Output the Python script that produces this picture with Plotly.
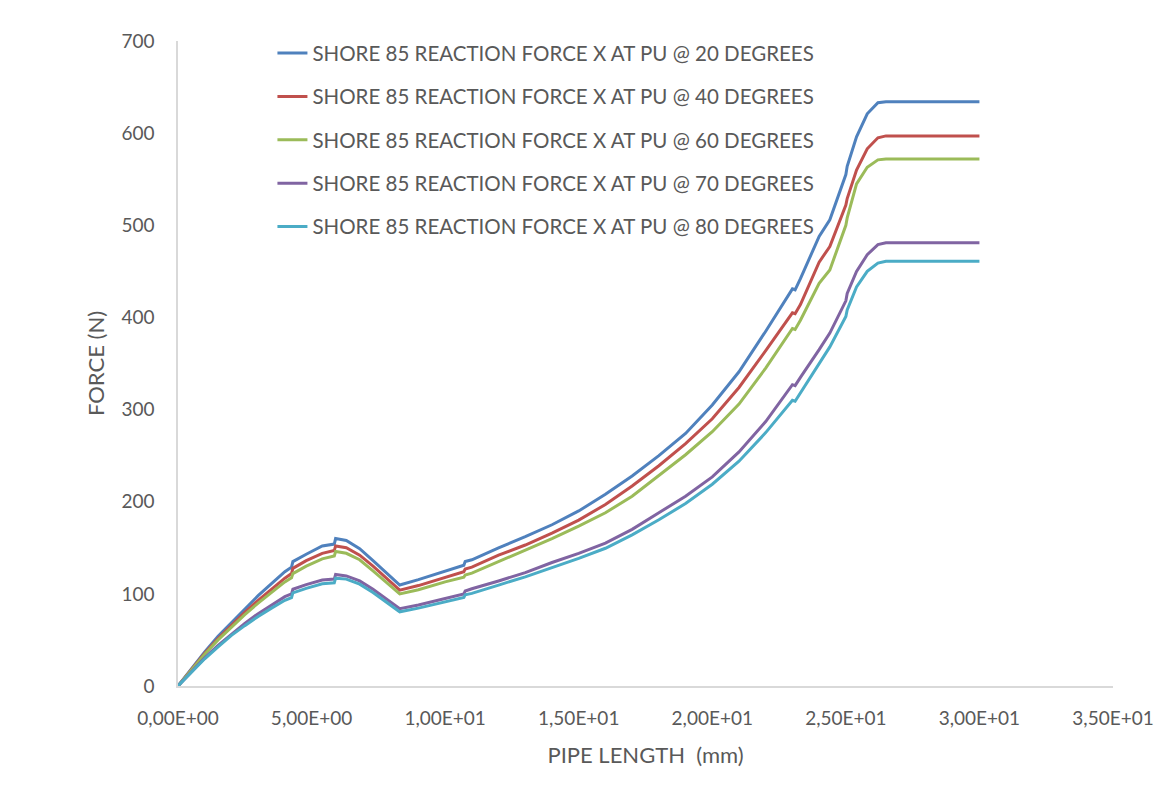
import plotly.graph_objects as go

# Pipe length (mm), shared by every series
pipe_length = [0, 0.5, 1, 1.5, 2, 2.5, 3, 3.5, 4, 4.25, 4.3, 4.8, 5.4, 5.85, 5.9,
               6.3, 6.8, 7.3, 7.8, 8.3, 9, 10, 10.7, 10.75, 11, 12, 13, 14, 15,
               16, 17, 18, 19, 20, 21, 22, 22.9, 23.0, 23.1, 23.3, 24, 24.4,
               25.0, 25.05, 25.4, 25.8, 26.2, 26.5, 30]

# Reaction force X (N) for each pipe angle
force_20 = [0, 19, 37, 54, 69, 84, 98, 111, 124, 129, 135, 143, 152, 154, 160,
            158, 149, 136, 123, 109.6, 115.5, 124.5, 131, 135, 137, 150, 162, 175, 190,
            208, 228, 250, 274, 305, 341, 385, 426, 431, 430, 442, 488, 506,
            555, 564, 596, 621, 633, 634, 634]
force_40 = [0, 18, 35.5, 51.5, 66, 80, 93, 105.5, 117, 122, 127.7, 136, 144, 147, 152,
            150, 142, 130, 117, 104, 109, 118, 124, 127, 129, 142, 153, 166, 180,
            197, 217, 239, 263, 290, 324, 364, 400, 405, 404, 414, 460, 477,
            522, 529, 560, 583, 595, 597, 597]
force_60 = [0, 17.5, 34.5, 50, 64, 77.5, 90, 102, 113, 117.5, 122, 130, 138, 141, 146,
            144, 137, 125, 112.5, 100, 104.5, 113, 118, 120.5, 122.5, 135, 147, 160, 173.5,
            188, 206, 228, 251, 276, 306, 345, 383, 388, 387, 397, 437, 451.5,
            500, 508, 545, 563, 571, 572, 572]
force_70 = [0, 15.5, 30.5, 44, 56.5, 68, 78.5, 88, 97, 100, 105, 110, 115, 116, 121,
            119.5, 114, 105, 94.5, 84, 88, 95, 100, 103, 105.5, 114, 123, 134, 144,
            155, 170, 188, 206, 227, 254, 287, 322, 327, 326, 335, 365, 383,
            418, 426, 450, 468, 479, 481, 481]
force_80 = [0, 15, 29.5, 42.5, 55, 65.5, 75.5, 84.5, 93, 96, 101, 106, 111, 112, 117,
            116, 110.5, 101.5, 91, 80.5, 84.5, 91, 96, 99, 100.5, 109.5, 118.5, 128.5, 138.5,
            149.5, 164, 180.5, 198, 219, 244, 275, 306, 310, 309, 318, 350, 368,
            401, 408, 433, 450, 459, 461, 461]

series_names = [
    "SHORE 85 REACTION FORCE X AT PU @ 20 DEGREES",
    "SHORE 85 REACTION FORCE X AT PU @ 40 DEGREES",
    "SHORE 85 REACTION FORCE X AT PU @ 60 DEGREES",
    "SHORE 85 REACTION FORCE X AT PU @ 70 DEGREES",
    "SHORE 85 REACTION FORCE X AT PU @ 80 DEGREES",
]
series_values = [force_20, force_40, force_60, force_70, force_80]
series_colors = ["#4F81BD", "#C0504D", "#9BBB59", "#8064A2", "#4BACC6"]

x_tick_values = [0, 5, 10, 15, 20, 25, 30, 35]
x_tick_labels = ["0,00E+00", "5,00E+00", "1,00E+01", "1,50E+01",
                 "2,00E+01", "2,50E+01", "3,00E+01", "3,50E+01"]

FONT = "Lato, 'Open Sans', sans-serif"
TEXT_GREY = "#595959"
AXIS_GREY = "#D9D9D9"

fig = go.Figure()
for i, (name, ys, col) in enumerate(zip(series_names, series_values, series_colors)):
    fig.add_trace(go.Scatter(
        x=pipe_length, y=ys, mode="lines", name=name,
        legendgroup=f"g{i}",
        line=dict(color=col, width=3),
    ))

fig.update_layout(
    width=1159, height=787,
    margin=dict(l=178, r=46, t=41, b=101, autoexpand=False),
    paper_bgcolor="white", plot_bgcolor="white",
    font=dict(family=FONT, color=TEXT_GREY, size=19),
    showlegend=True,
    legend=dict(
        x=0.101, y=1.012, xanchor="left", yanchor="top",
        bgcolor="rgba(0,0,0,0)",
        traceorder="grouped", tracegroupgap=13.7,
        font=dict(family=FONT, size=20.5, color=TEXT_GREY),
    ),
)

fig.update_xaxes(
    range=[0, 35], tickmode="array", tickvals=x_tick_values, ticktext=x_tick_labels,
    showgrid=False, zeroline=False, automargin=False,
    showline=True, linecolor=AXIS_GREY, linewidth=1.5,
    ticks="", ticklabelstandoff=14,
    tickfont=dict(family=FONT, size=19, color=TEXT_GREY),
    title=dict(text="PIPE LENGTH  (mm)", standoff=20,
               font=dict(family=FONT, size=22, color=TEXT_GREY)),
)
fig.update_yaxes(
    range=[0, 700], tickmode="linear", tick0=0, dtick=100,
    showgrid=False, zeroline=False, automargin=False,
    showline=True, linecolor=AXIS_GREY, linewidth=1.5,
    ticks="", ticklabelstandoff=18,
    tickfont=dict(family=FONT, size=19, color=TEXT_GREY),
    title=dict(text="FORCE (N)", standoff=11,
               font=dict(family=FONT, size=22, color=TEXT_GREY)),
)

fig.write_html("out.html")
